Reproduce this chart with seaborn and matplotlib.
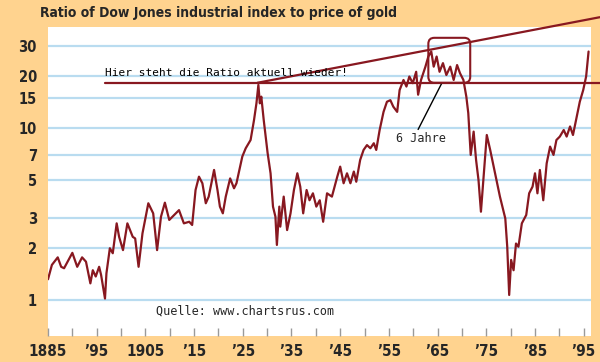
import matplotlib
matplotlib.use("Agg")
import matplotlib.pyplot as plt
import seaborn as sns
from matplotlib.patches import FancyBboxPatch
from matplotlib.transforms import IdentityTransform

# Dow Jones / gold ratio
years = [1885.0, 1885.8, 1887.0, 1887.7, 1888.3, 1890.0, 1891.0, 1892.0, 1892.8, 1893.7,
         1894.2, 1894.8, 1895.5, 1895.9, 1896.7, 1897.0, 1897.7, 1898.3, 1899.1, 1899.6,
         1900.4, 1901.3, 1902.4, 1902.9, 1903.6, 1904.4, 1905.6, 1906.6, 1907.4, 1908.2,
         1909.0, 1909.9, 1910.9, 1911.9, 1912.9, 1914.0, 1914.6, 1915.3, 1916.0, 1916.7,
         1917.4, 1918.0, 1919.1, 1919.8, 1920.3, 1920.9, 1921.5, 1922.4, 1923.2, 1923.7,
         1924.9, 1925.6, 1926.6, 1927.3, 1927.8, 1928.2, 1928.5, 1928.8, 1929.3, 1930.1,
         1930.7, 1931.2, 1931.7, 1932.0, 1932.5, 1932.7, 1933.4, 1934.1, 1934.8, 1935.5,
         1936.2, 1936.8, 1937.4, 1938.1, 1938.7, 1939.4, 1940.1, 1940.8, 1941.5, 1942.3,
         1943.3, 1944.4, 1945.0, 1945.7, 1946.4, 1947.1, 1947.8, 1948.3, 1949.1, 1949.8,
         1950.5, 1951.2, 1951.9, 1952.4, 1953.1, 1953.9, 1954.6, 1955.3, 1955.9, 1956.7,
         1957.2, 1958.0, 1958.6, 1959.2, 1959.9, 1960.6, 1961.0, 1961.6, 1962.5, 1963.1,
         1963.7, 1964.2, 1964.8, 1965.4, 1966.1, 1966.8, 1967.6, 1968.3, 1969.0, 1969.6,
         1970.3, 1970.9, 1971.3, 1971.8, 1972.4, 1972.9, 1973.4, 1973.9, 1974.4, 1975.1,
         1975.8, 1976.8, 1977.8, 1978.9, 1979.3, 1979.7, 1980.1, 1980.6, 1981.1, 1981.6,
         1982.3, 1983.2, 1983.8, 1984.5, 1985.0, 1985.5, 1986.0, 1986.7, 1987.4, 1988.1,
         1988.8, 1989.4, 1990.1, 1990.9, 1991.5, 1992.2, 1992.8, 1993.5, 1994.2, 1994.9,
         1995.5, 1996.0]
ratio = [1.32, 1.60, 1.77, 1.56, 1.53, 1.88, 1.56, 1.77, 1.67, 1.25,
         1.49, 1.37, 1.56, 1.40, 1.02, 1.43, 2.00, 1.87, 2.79, 2.33,
         1.95, 2.79, 2.33, 2.28, 1.56, 2.44, 3.65, 3.19, 1.95, 3.05,
         3.68, 2.92, 3.12, 3.33, 2.79, 2.85, 2.73, 4.36, 5.21, 4.77,
         3.65, 3.99, 5.70, 4.36, 3.49, 3.19, 3.99, 5.09, 4.46, 4.77,
         6.82, 7.62, 8.51, 11.1, 13.9, 17.8, 13.9, 15.2, 11.1, 7.13,
         5.45, 3.49, 3.05, 2.09, 3.49, 2.67, 3.99, 2.55, 3.19, 4.36,
         5.45, 4.56, 3.19, 4.36, 3.80, 4.17, 3.49, 3.80, 2.85, 4.17,
         3.99, 5.21, 5.96, 4.77, 5.45, 4.77, 5.58, 4.87, 6.52, 7.45,
         7.95, 7.62, 8.15, 7.45, 9.73, 12.4, 14.2, 14.5, 13.3, 12.4,
         16.6, 19.0, 17.4, 19.9, 18.2, 21.2, 15.6, 19.0, 22.7, 26.0,
         27.8, 22.7, 26.0, 21.2, 23.8, 20.3, 22.7, 19.0, 23.2, 20.8,
         19.0, 15.2, 12.2, 6.97, 9.52, 6.52, 4.98, 3.26, 4.98, 9.10,
         7.45, 5.45, 3.99, 2.98, 2.04, 1.07, 1.71, 1.49, 2.13, 2.04,
         2.79, 3.12, 4.17, 4.56, 5.45, 4.17, 5.70, 3.80, 6.23, 7.79,
         6.97, 8.51, 8.91, 9.73, 8.91, 10.2, 9.10, 11.4, 14.2, 16.6,
         19.9, 27.8]

ytick_vals = [1, 2, 3, 5, 7, 10, 15, 20, 30]
xtick_years = list(range(1885, 1996, 10))
xtick_labels = ["1885", "’95", "1905", "’15", "’25", "’35", "’45", "’55", "’65", "’75", "’85", "’95"]
minor_years = list(range(1890, 1996, 10))

# annotation lines
level_now = 18.3
level_x = [1896.7, 1998.3]
trend_x = [1928.0, 1998.3]
trend_y = [18.3, 44.0]
box_years = [1963.1, 1971.7]
box_vals = [18.3, 33.4]
pointer_x = [1965.9, 1961.0]
pointer_y = [18.3, 9.8]

bg = "#FFD38F"
red = "#881820"
grid_blue = "#B9DCF0"
narrow = ["DejaVu Sans"]
mono = ["DejaVu Sans Mono"]

sns.set_style("white")

fig = plt.figure(figsize=(6, 3.62), dpi=100)
fig.patch.set_facecolor(bg)
ax = fig.add_axes([48 / 600, 26 / 362, 543 / 600, 309 / 362])
ax.set_facecolor("white")

ax.set_yscale("log")
ax.set_ylim(0.618, 38.6)
ax.set_xlim(1885, 1996.5)

for v in ytick_vals:
    ax.axhline(v, color=grid_blue, lw=1.6, zorder=0)

sns.lineplot(x=years, y=ratio, ax=ax, color=red, lw=1.6, estimator=None, sort=False, zorder=3)

ax.set_yticks(ytick_vals)
ax.set_yticklabels([str(v) for v in ytick_vals], fontfamily=narrow, fontweight="bold",
                   fontstretch="condensed", fontsize=10.5)
ax.yaxis.set_minor_locator(matplotlib.ticker.NullLocator())
ax.tick_params(axis="y", length=0, pad=8)

ax.set_xticks(xtick_years)
ax.set_xticklabels(xtick_labels, fontfamily=narrow, fontweight="bold",
                   fontstretch="condensed", fontsize=11)
ax.set_xticks(minor_years, minor=True)
ax.tick_params(axis="x", which="both", direction="in", length=6, width=1,
               color="#9A9A9A", pad=6, bottom=True)
for s in ax.spines.values():
    s.set_visible(False)
ax.set_xlabel("")
ax.set_ylabel("")

# red reference lines
ax.plot(level_x, [level_now, level_now], color=red, lw=1.6, clip_on=False, zorder=4)
ax.plot(trend_x, trend_y, color=red, lw=1.6, clip_on=False, zorder=4)
ax.plot(pointer_x, pointer_y, color="black", lw=1, zorder=4)

# rounded box around the 60s top, drawn in pixels so corners stay round
p0 = ax.transData.transform((box_years[0], box_vals[0]))
p1 = ax.transData.transform((box_years[1], box_vals[1]))
box = FancyBboxPatch((p0[0], p0[1]), p1[0] - p0[0], p1[1] - p0[1],
                     boxstyle="round,pad=0,rounding_size=6", transform=IdentityTransform(),
                     fill=False, ec=red, lw=1.5, zorder=5)
fig.patches.append(box)

ax.text(1896.8, 19.4, "Hier steht die Ratio aktuell wieder!", fontfamily=mono,
        fontsize=8, color="black", va="bottom", ha="left", zorder=6)
ax.text(1956.5, 8.7, "6 Jahre", fontfamily=mono, fontsize=8.5, va="center", ha="left", zorder=6)
ax.text(1907.2, 0.86, "Quelle: www.chartsrus.com", fontfamily=mono, fontsize=8.5,
        va="center", ha="left", zorder=6)

fig.text(40 / 600, 1 - 13.5 / 362, "Ratio of Dow Jones industrial index to price of gold",
         fontfamily=narrow, fontweight="bold", fontstretch="condensed", fontsize=10,
         va="center", ha="left")

fig.savefig("out.png", dpi=100, facecolor=fig.get_facecolor())
